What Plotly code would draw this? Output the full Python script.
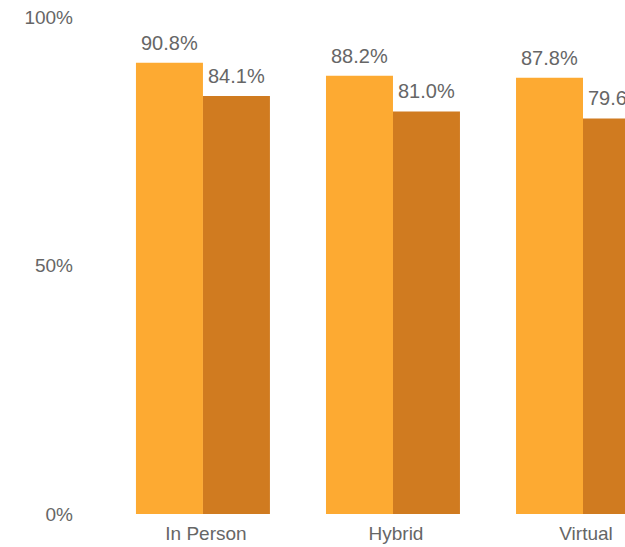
import plotly.graph_objects as go

# Share of respondents by meeting format, two survey series
categories = ["In Person", "Hybrid", "Virtual"]
series_a = [90.8, 88.2, 87.8]
series_b = [84.1, 81.0, 79.6]
y_ticks = [0, 50, 100]
y_tick_labels = ["0%", "50%", "100%"]

color_a = "#FDAA32"
color_b = "#D07B20"
text_color = "#666666"
font_family = "Liberation Sans, Arial, sans-serif"

fig = go.Figure()
fig.add_trace(go.Bar(x=categories, y=series_a, marker=dict(color=color_a, line=dict(width=0)),
                     showlegend=False, hoverinfo="skip"))
fig.add_trace(go.Bar(x=categories, y=series_b, marker=dict(color=color_b, line=dict(width=0)),
                     showlegend=False, hoverinfo="skip"))

# Value labels above each bar
bar_px = 67
for vals, side in ((series_a, -1), (series_b, 1)):
    for cat, v in zip(categories, vals):
        fig.add_annotation(x=cat, y=v, text=f"{v:.1f}%", showarrow=False,
                           xanchor="center", yanchor="bottom",
                           xshift=side * bar_px / 2, yshift=7,
                           font=dict(size=20, color=text_color, family=font_family))

fig.update_layout(
    width=625, height=547,
    margin=dict(l=80, r=0, t=17, b=33),
    paper_bgcolor="white", plot_bgcolor="white",
    barmode="group", bargap=0.295, bargroupgap=0,
    font=dict(family=font_family, size=20, color=text_color),
    xaxis=dict(range=[-0.647, 2.221], showgrid=False, zeroline=False, showline=False,
               ticks="", tickfont=dict(size=19, color=text_color), ticklabelshift=3,
               ticklabelstandoff=6),
    yaxis=dict(range=[0, 100], tickvals=y_ticks, ticktext=y_tick_labels,
               showgrid=False, zeroline=False, showline=False, ticks="",
               tickfont=dict(size=19, color=text_color), ticklabelstandoff=6),
)

fig.write_html("out.html")
